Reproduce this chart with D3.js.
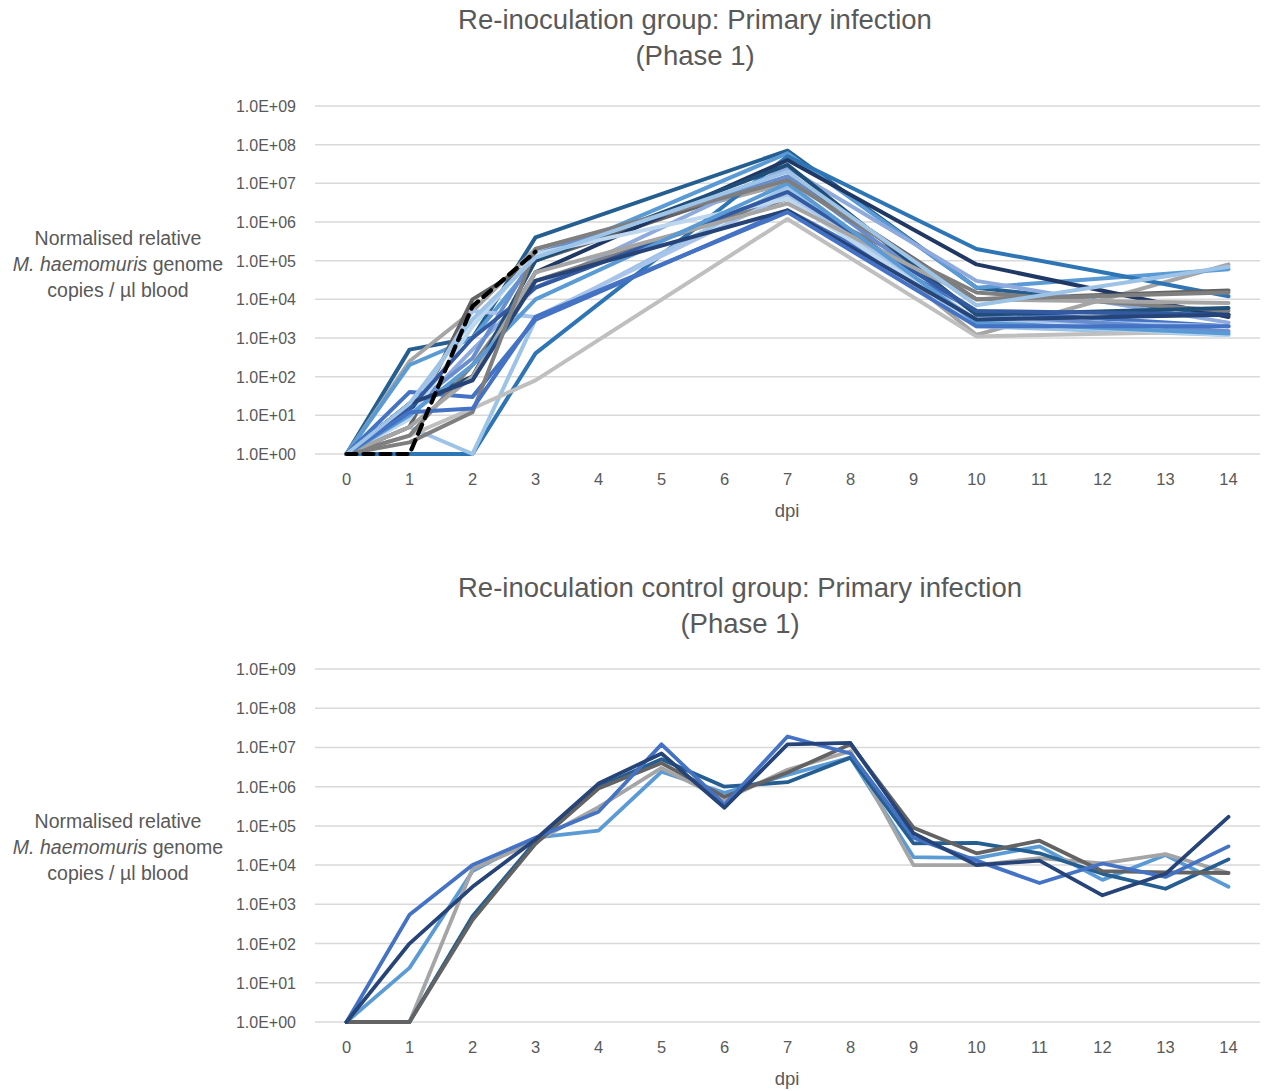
<!DOCTYPE html>
<html><head><meta charset="utf-8">
<script src="https://cdn.jsdelivr.net/npm/d3@7"></script>
<style>
body{margin:0;background:#fff;}
svg{display:block;font-family:"Liberation Sans",Arial,sans-serif;}
</style></head>
<body><svg id="c" width="1269" height="1091"></svg>
<script>
const _ = null;
const days = [0,1,2,3,4,5,6,7,8,9,10,11,12,13,14];
const yTickValues = [1,1e1,1e2,1e3,1e4,1e5,1e6,1e7,1e8,1e9];
const yTickLabels = ["1.0E+00","1.0E+01","1.0E+02","1.0E+03","1.0E+04","1.0E+05","1.0E+06","1.0E+07","1.0E+08","1.0E+09"];
const topTitle = ["Re-inoculation group: Primary infection","(Phase 1)"];
const bottomTitle = ["Re-inoculation control group: Primary infection","(Phase 1)"];
const yTitle = ["Normalised relative","M. haemomuris","copies / µl blood"];

// Re-inoculation group (sampled at 0,1,2,3,7,10,14)
const topValues = [
  [1,5e2,1e3,4e5,_,_,_,7e7,_,_,2e4,_,_,_,4e3],
  [1,2.5e2,5e3,2e5,_,_,_,1e7,_,_,1.2e3,_,_,_,8e4],
  [1,2e2,1e3,1e5,_,_,_,6e7,_,_,2e4,_,_,_,6e4],
  [1,1,1,4e2,_,_,_,5e7,_,_,2e5,_,5e4,_,1.2e4],
  [1,5,1,3e3,_,_,_,8e6,_,_,2e3,_,_,_,1.2e3],
  [1,3,1.5e1,8e1,_,_,_,1.2e6,_,_,1.1e3,_,_,_,1.5e3],
  [1,5,1e4,1e5,_,_,_,1.5e7,_,_,1e4,_,_,_,1.7e4],
  [1,2e1,1e2,5e4,_,_,_,4e7,_,_,8e4,_,_,_,3.5e3],
  [1,4e1,3e1,3e3,_,_,_,2e6,_,_,5e3,_,_,_,2e3],
  [1,1e1,5e2,2e4,_,_,_,2.5e7,_,_,3e4,_,_,_,2.5e3],
  [1,3,2e2,3e4,_,_,_,4e6,_,_,1.5e4,_,_,_,5e3],
  [1,1e1,5e3,3.5e3,_,_,_,5e6,_,_,3e3,_,_,_,2e3],
  [1,1.5e1,3e2,1.5e5,_,_,_,1.5e7,_,_,4e3,_,_,_,1.5e3],
  [1,1.5e1,1e2,1e5,_,_,_,3e7,_,_,4e3,_,_,_,6e3],
  [1,8,2e3,1.5e5,_,_,_,4e6,_,_,2.5e3,_,_,_,1.2e3],
  [1,1.5e1,1e3,2e4,_,_,_,6e6,_,_,5e3,_,_,_,4e3],
  [1,5,1e2,5e4,_,_,_,3e6,_,_,1e4,_,_,_,8e3],
  [1,1e1,2e2,1e4,_,_,_,1e7,_,_,2.5e3,_,_,_,1.3e3],
  [1,2e1,8e1,3e4,_,_,_,2e6,_,_,3e3,_,_,_,4e3],
  [1,2,1.2e1,2e5,_,_,_,1.2e7,_,_,1e4,_,_,_,1.5e4],
  [1,1.2e1,1.5e1,3.5e3,_,_,_,1.8e6,_,_,2e3,_,_,_,2e3],
  [1,2e1,3e3,1.2e5,_,_,_,2e7,_,_,7e3,_,_,_,7e4]
];
const topColors = ["#255E91","#A5A5A5","#5B9BD5","#2E75B6","#9DC3E6","#BFBFBF","#636363","#203864",
  "#4472C4","#8FAADC","#7F7F7F","#A9C4EB","#698ED0","#1F4E79","#BDD7EE","#335AA1",
  "#A5A5A5","#5B9BD5","#264478","#7F7F7F","#4472C4","#9DC3E6"];
const dashedValues = [1,1,6.6e3,1.7e5,_,_,_,_,_,_,_,_,_,_,_];

// Re-inoculation control group
const controlValues = [
  [1,2.4e1,7e3,5e4,7.6e4,2.4e6,7e5,2e6,5.5e6,1.6e4,1.5e4,3e4,4.2e3,1.8e4,2.8e3],
  [1,1,8e3,4e4,3e5,3e6,4.7e5,2.7e6,8e6,1e4,1e4,1.5e4,1.1e4,1.9e4,6.3e3],
  [1,1,5e2,4e4,1e6,5e6,1e6,1.3e6,5.5e6,3.6e4,3.7e4,2e4,6e3,2.5e3,1.4e4],
  [1,1,4e2,3.5e4,9e5,4e6,5.5e5,2.3e6,1.2e7,9e4,2e4,4.2e4,7e3,6.5e3,6.3e3],
  [1,5.4e2,1e4,5e4,2.3e5,1.2e7,3.5e5,1.9e7,7e6,5e4,1.3e4,3.5e3,1.1e4,5e3,3e4],
  [1,1e2,2.8e3,4.5e4,1.2e6,7e6,2.9e5,1.2e7,1.3e7,6.5e4,1e4,1.3e4,1.7e3,6e3,1.7e5]
];
const controlColors = ["#5B9BD5","#A5A5A5","#255E91","#636363","#4472C4","#264478"];

const svg = d3.select("#c");
const textCol = "#595959";

function drawPanel(cfg){
  const x = d3.scalePoint().domain(days).range([315,1260]).padding(0.5);
  const y = d3.scaleLog().domain([1,1e9]).range([cfg.y0, cfg.y9]);
  const g = svg.append("g");
  g.selectAll("line.grid").data(yTickValues).join("line")
    .attr("x1",315).attr("x2",1260)
    .attr("y1",d=>y(d)).attr("y2",d=>y(d))
    .attr("stroke","#D9D9D9").attr("stroke-width",1.5);
  g.selectAll("text.yt").data(yTickValues).join("text")
    .attr("x",296).attr("y",d=>y(d)+6)
    .attr("text-anchor","end").attr("font-size",16).attr("fill",textCol)
    .text((d,i)=>yTickLabels[i]);
  g.selectAll("text.xt").data(days).join("text")
    .attr("x",d=>x(d)).attr("y",cfg.y0+31)
    .attr("text-anchor","middle").attr("font-size",16.5).attr("fill",textCol)
    .text(d=>d);
  g.append("text").attr("x",787).attr("y",cfg.y0+63).attr("text-anchor","middle")
    .attr("font-size",18.5).attr("fill",textCol).text("dpi");
  cfg.title.forEach((t,i)=>{
    g.append("text").attr("x",cfg.titleX).attr("y",cfg.titleY+i*36)
      .attr("text-anchor","middle").attr("font-size",27.5).attr("fill",textCol).text(t);
  });
  const yt = g.append("text").attr("text-anchor","middle").attr("font-size",19.5).attr("fill",textCol);
  yt.append("tspan").attr("x",118).attr("y",cfg.ytY).text(yTitle[0]);
  const l2 = yt.append("tspan").attr("x",118).attr("y",cfg.ytY+26);
  l2.append("tspan").attr("font-style","italic").text(yTitle[1]);
  l2.append("tspan").text(" genome");
  yt.append("tspan").attr("x",118).attr("y",cfg.ytY+52).text(yTitle[2]);

  const line = d3.line().x(d=>x(d.day)).y(d=>y(d.v));
  const toPts = arr => arr.map((v,i)=>({day:days[i],v})).filter(d=>d.v!==null);
  g.selectAll("path.s").data(cfg.values).join("path")
    .attr("d",d=>line(toPts(d)))
    .attr("fill","none").attr("stroke",(d,i)=>cfg.colors[i])
    .attr("stroke-width",cfg.sw).attr("stroke-linejoin","round").attr("stroke-linecap","round");
  if(cfg.dashed){
    g.append("path").attr("d",line(toPts(cfg.dashed)))
      .attr("fill","none").attr("stroke","#000").attr("stroke-width",4.2)
      .attr("stroke-dasharray","10,7").attr("stroke-linecap","round");
  }
}

drawPanel({y0:454,y9:106,title:topTitle,titleX:695,titleY:29,ytY:245,
  values:topValues,colors:topColors,dashed:dashedValues,sw:4});
drawPanel({y0:1022,y9:669,title:bottomTitle,titleX:740,titleY:597,ytY:828,
  values:controlValues,colors:controlColors,sw:3.8});
</script>
</body></html>
